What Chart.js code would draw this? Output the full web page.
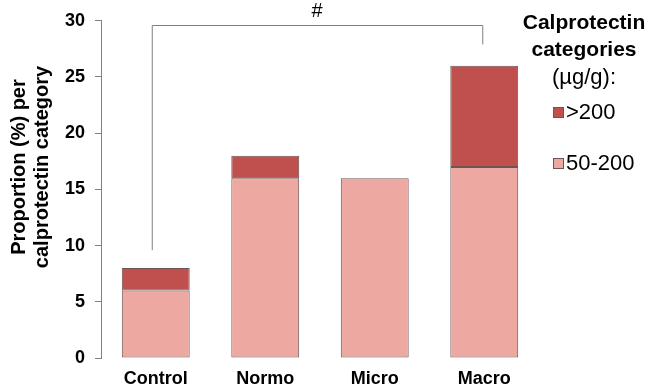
<!DOCTYPE html>
<html>
<head>
<meta charset="utf-8">
<script src="https://cdn.jsdelivr.net/npm/chart.js@4/dist/chart.umd.min.js"></script>
<style>
  html, body { margin: 0; padding: 0; background: #fff; }
  #wrap { width: 645px; height: 385px; position: relative; }
</style>
</head>
<body>
<div id="wrap"><canvas id="calChart"></canvas></div>
<script>
const categories = ['Control', 'Normo', 'Micro', 'Macro'];
const low = [6, 16, 16, 17];      // 50-200 µg/g
const high = [2, 2, 0, 9];        // >200 µg/g
const yTicks = [0, 5, 10, 15, 20, 25, 30];

// significance bracket (Control vs Macro)
const bracketTop = 29.6;
const bracketLeftEnd = 9.6;
const bracketRightEnd = 27.9;

const darkRed = '#C0504D';
const lightRed = '#ECA8A1';
const edge = '#6e5553';
const axisGray = '#808080';
const FONT = 'Arial, "Liberation Sans", sans-serif';

const extras = {
    id: 'extras',
    afterDraw(chart) {
        const c = chart.ctx;
        const x = chart.scales.x, y = chart.scales.y;
        c.save();

        // y-axis title, two lines
        c.fillStyle = '#000';
        c.font = 'bold 20px ' + FONT;
        c.textAlign = 'center';
        c.textBaseline = 'middle';
        c.translate(0, 167);
        c.rotate(-Math.PI / 2);
        c.fillText('Proportion (%) per', 0, 19);
        c.fillText('calprotectin category', 0, 42);
        c.setTransform(1, 0, 0, 1, 0, 0);

        // bracket
        const xl = x.getPixelForValue(0) - 4;
        const xr = x.getPixelForValue(3) - 2;
        c.strokeStyle = axisGray;
        c.lineWidth = 1;
        c.beginPath();
        c.moveTo(xl + 0.5, y.getPixelForValue(bracketLeftEnd));
        c.lineTo(xl + 0.5, Math.round(y.getPixelForValue(bracketTop)) + 0.5);
        c.lineTo(xr + 0.5, Math.round(y.getPixelForValue(bracketTop)) + 0.5);
        c.lineTo(xr + 0.5, y.getPixelForValue(bracketRightEnd));
        c.stroke();
        c.font = '20px ' + FONT;
        c.fillText('#', (xl + xr) / 2, 11);

        // legend
        c.font = 'bold 21px ' + FONT;
        c.fillText('Calprotectin', 584, 23);
        c.fillText('categories', 584, 50);
        c.font = '22px ' + FONT;
        c.fillText('(\u00b5g/g):', 584, 78);
        const items = [[chart.data.datasets[1], 112], [chart.data.datasets[0], 163]];
        c.textAlign = 'left';
        items.forEach(([ds, yy]) => {
            c.fillStyle = ds.backgroundColor;
            c.fillRect(553, yy - 5, 10, 10);
            c.strokeStyle = edge;
            c.strokeRect(553.5, yy - 4.5, 10, 10);
            c.fillStyle = '#000';
            c.fillText(ds.label, 566, yy + 1);
        });
        c.restore();
    }
};

new Chart(document.getElementById('calChart'), {
    type: 'bar',
    data: {
        labels: categories,
        datasets: [
            {
                label: '50-200',
                data: low,
                backgroundColor: lightRed,
                borderColor: edge,
                borderWidth: 1,
                borderSkipped: false,
                barPercentage: 0.62,
                categoryPercentage: 1
            },
            {
                label: '>200',
                data: high,
                backgroundColor: darkRed,
                borderColor: edge,
                borderWidth: 1,
                borderSkipped: false,
                barPercentage: 0.62,
                categoryPercentage: 1
            }
        ]
    },
    options: {
        responsive: true,
        maintainAspectRatio: false,
        animation: false,
        layout: { autoPadding: false, padding: { top: 20, right: 106, left: 0, bottom: 0 } },
        plugins: { legend: { display: false }, tooltip: { enabled: false } },
        scales: {
            x: {
                stacked: true,
                grid: { display: false },
                border: { display: false },
                ticks: { color: '#000', font: { family: FONT, size: 18, weight: 'bold' }, padding: 2 },
                afterFit(scale) { scale.height = 27; }
            },
            y: {
                stacked: true,
                min: 0,
                max: 30,
                afterBuildTicks(scale) { scale.ticks = yTicks.map(v => ({ value: v })); },
                grid: { drawOnChartArea: false, tickLength: 6, color: axisGray },
                border: { color: axisGray },
                ticks: { color: '#000', font: { family: FONT, size: 18, weight: 'bold' }, padding: 10 },
                afterFit(scale) { scale.width = 101; }
            }
        }
    },
    plugins: [extras]
});
</script>
</body>
</html>
